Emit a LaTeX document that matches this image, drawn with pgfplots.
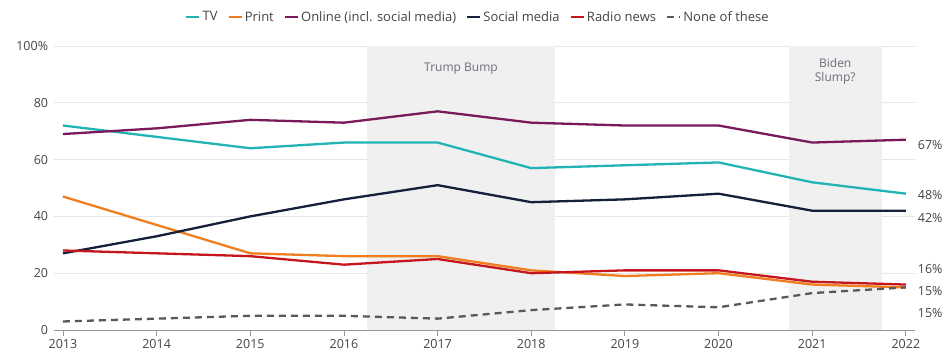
\documentclass[border=0pt]{standalone}
\usepackage{pgfplots}
\pgfplotsset{compat=1.18}
\usepackage{fontspec}
\setmainfont{Open Sans}
\newfontfamily\lab{Open Sans}
\definecolor{cTV}{HTML}{22B3B5}
\definecolor{cPrint}{HTML}{F07D1E}
\definecolor{cOnline}{HTML}{7A1A5C}
\definecolor{cSocial}{HTML}{15203A}
\definecolor{cRadio}{HTML}{C4161C}
\definecolor{cNone}{HTML}{555A60}
\definecolor{txt}{HTML}{444444}
\definecolor{annot}{HTML}{6A6F78}
\definecolor{shadeC}{HTML}{F0F0F1}
\definecolor{gridc}{HTML}{E6E6E6}
\begin{document}
\begin{tikzpicture}
\begin{axis}[
  at={(0pt,0pt)}, anchor=south west,
  scale only axis, width=861.7pt, height=284pt,
  xmin=2012.9, xmax=2022.1, ymin=0, ymax=100,
  xtick={2013,...,2022},
  xticklabel style={/pgf/number format/1000 sep={}},
  ytick={0,20,40,60,80,100},
  yticklabels={0,20,40,60,80,100\%},
  ymajorgrids, grid style={gridc, line width=0.8pt},
  axis x line*=bottom, axis y line*=left,
  y axis line style={draw=none},
  ytick style={draw=none},
  yticklabel style={xshift=-2pt},
  x axis line style={draw=gray!80, line width=0.8pt, -},
  xtick style={draw=gray!80, line width=0.8pt},
  major tick length=6pt, xtick align=outside,
  tick label style={font=\lab\fontsize{12.5}{14}\selectfont, text=txt},
  /pgf/number format/assume math mode=true,
  clip=false,
  legend columns=6,
  legend style={at={(0.4925,1.102)}, anchor=center, draw=none, fill=none,
    font=\lab\fontsize{13}{15}\selectfont, text=txt,
    /tikz/every even column/.append style={column sep=8pt}},
  legend image code/.code={\draw[#1] (0pt,0pt) -- (13pt,0pt);},
  every axis plot/.append style={line width=2.3pt, line join=round},
]
\fill[shadeC] (axis cs:2016.25,0) rectangle (axis cs:2018.25,100);
\fill[shadeC] (axis cs:2020.75,0) rectangle (axis cs:2021.74,100);
\node[text=annot, font=\lab\fontsize{12}{14}\selectfont] at (axis cs:2017.25,92) {Trump Bump};
\node[text=annot, font=\lab\fontsize{12}{14.5}\selectfont, align=center] at (axis cs:2021.245,91) {Biden\\Slump?};

\addplot[cTV] coordinates {(2013,72)(2014,68)(2015,64)(2016,66)(2017,66)(2018,57)(2019,58)(2020,59)(2021,52)(2022,48)};
\addlegendentry{TV}
\addplot[cPrint] coordinates {(2013,47)(2014,37)(2015,27)(2016,26)(2017,26)(2018,21)(2019,19)(2020,20)(2021,16)(2022,15)};
\addlegendentry{Print}
\addplot[cOnline] coordinates {(2013,69)(2014,71)(2015,74)(2016,73)(2017,77)(2018,73)(2019,72)(2020,72)(2021,66)(2022,67)};
\addlegendentry{Online (incl. social media)}
\addplot[cSocial] coordinates {(2013,27)(2014,33)(2015,40)(2016,46)(2017,51)(2018,45)(2019,46)(2020,48)(2021,42)(2022,42)};
\addlegendentry{Social media}
\addplot[cRadio] coordinates {(2013,28)(2014,27)(2015,26)(2016,23)(2017,25)(2018,20)(2019,21)(2020,21)(2021,17)(2022,16)};
\addlegendentry{Radio news}
\addplot[cNone, dash pattern=on 7pt off 5pt] coordinates {(2013,3)(2014,4)(2015,5)(2016,5)(2017,4)(2018,7)(2019,9)(2020,8)(2021,13)(2022,15)};
\addlegendentry{None of these}
\end{axis}
\begin{axis}[
  at={(0pt,0pt)}, anchor=south west,
  scale only axis, width=861.7pt, height=284pt,
  xmin=2012.9, xmax=2022.1, ymin=0, ymax=100,
  hide x axis, axis y line*=right,
  y axis line style={draw=none}, ytick style={draw=none},
  ytick={6,13.7,21.5,39.4,47.5,65},
  yticklabels={15\%,15\%,16\%,42\%,48\%,67\%},
  yticklabel style={font=\lab\fontsize{12.5}{14}\selectfont, text=txt, xshift=-1pt},
  /pgf/number format/assume math mode=true,
]
\end{axis}
\pgfresetboundingbox
\path[use as bounding box] (-53.6pt,-26pt) rectangle (891.4pt,330pt);
\end{tikzpicture}
\end{document}
